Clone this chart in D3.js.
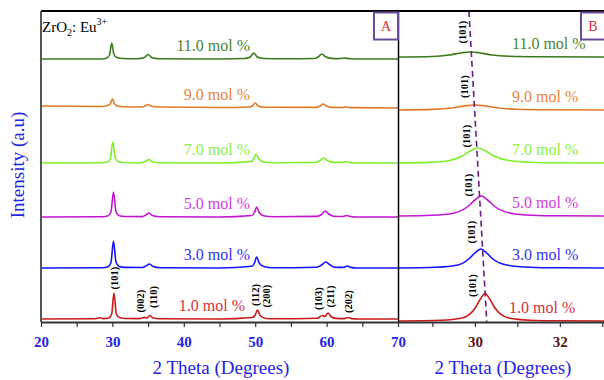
<body style="margin:0;background:#fff">
  <svg width="604" height="380"></svg>

  <script src="https://cdn.jsdelivr.net/npm/d3@7"></script>

  <script>
    // --- data (intensity in a.u., one unit ~ one pixel) ---
    const seriesLabels = ["11.0 mol %", "9.0 mol %", "7.0 mol %", "5.0 mol %", "3.0 mol %", "1.0 mol %"];
    const lineColors  = ["#3b7a1c", "#e07a26", "#7ef02a", "#c414d4", "#1414ff", "#cc1a1a"];
    const labelColors = ["#4a862a", "#e8843a", "#8cf046", "#d23cdc", "#3434ee", "#d8303a"];

    // vertical stacking of the patterns
    const offsetsA = [263, 214, 159, 105, 54, 3];
    const offsetsB = [265, 212, 159, 106, 54, 1];

    // panel A: full scans, [2theta, intensity]
    const scanA11 = [[20,0],[28.5,0],[29.2,1],[29.6,4],[29.9,16],[30.2,5],[30.6,1.5],[31.5,0.5],[33.5,0.3],[34.5,1.5],[35.0,4.5],[35.5,1.5],[36.5,0.3],[42,0],[48.5,0.5],[49.3,2],[49.8,6],[50.3,2],[51.2,0.5],[54,0.2],[58.3,0.5],[58.9,2.5],[59.3,5],[59.8,2.5],[60.6,0.6],[61.8,0.4],[62.5,1],[63.2,0.3],[65,0],[70,0]];
    const scanA9  = [[20,2],[28.5,1.5],[29.3,2.5],[29.7,4],[30.0,9],[30.3,4],[30.7,2],[31.5,1.2],[34,1],[34.6,2],[35.0,3.5],[35.5,1.8],[36.5,1],[45,0.5],[49.2,1],[49.6,2],[50.0,5],[50.4,2],[51.2,0.8],[58.5,0.6],[59.1,2],[59.5,4],[60,2],[60.8,0.6],[62.3,0.5],[62.7,1.2],[63.2,0.4],[70,0]];
    const scanA7  = [[20,0],[28.5,0.2],[29.3,1],[29.7,4],[30.05,21],[30.4,5],[30.8,1.5],[31.6,0.5],[34,0.3],[34.6,1.5],[35.1,3.5],[35.6,1.2],[36.6,0.3],[45,0],[49.4,1.5],[49.8,4],[50.1,9],[50.5,4],[51.2,1],[52.5,0.2],[58.5,0.5],[59.1,2.5],[59.6,5],[60.1,2.5],[60.9,0.6],[62.2,0.5],[62.7,1.5],[63.2,0.5],[64,0],[70,0]];
    const scanA5  = [[20,0],[28.6,0.2],[29.4,1.2],[29.8,5],[30.15,25],[30.5,5.5],[30.9,1.5],[31.7,0.5],[34.2,0.4],[34.7,2],[35.1,4],[35.6,1.5],[36.6,0.3],[45,0],[49.5,1.5],[49.9,4.5],[50.2,10],[50.6,4],[51.3,1],[52.5,0.2],[58.6,0.6],[59.3,2.5],[59.8,6],[60.3,3],[61,0.7],[62.3,0.5],[62.8,1.5],[63.3,0.5],[64.2,0],[70,0]];
    const scanA3  = [[20,0],[28.6,0.3],[29.4,1.3],[29.8,5.5],[30.15,27],[30.5,6],[30.9,1.8],[31.7,0.6],[34.2,0.5],[34.7,2],[35.2,4],[35.7,1.5],[36.7,0.3],[45,0],[49.5,1.8],[49.9,5],[50.2,11],[50.6,4.5],[51.3,1.2],[52.5,0.3],[58.6,0.8],[59.3,3],[59.9,6],[60.4,3.5],[61.1,0.8],[62.3,0.6],[62.9,2],[63.4,0.6],[64.3,0],[70,0]];
    const scanA1  = [[20,0],[27.6,0.3],[28.2,1.2],[28.7,0.4],[29.5,1],[29.9,5],[30.22,26],[30.55,5],[31,1.5],[31.8,0.5],[33.8,0.4],[34.5,1.6],[34.85,1],[35.25,3.5],[35.7,1],[36.6,0.2],[45,0],[49.6,1.5],[50,4],[50.3,9],[50.7,3.5],[51.4,0.8],[52.6,0.2],[58.7,0.8],[59.4,3.5],[59.75,2.5],[60.2,6],[60.6,2.5],[61.3,0.6],[62.5,0.4],[63.0,1.5],[63.5,0.4],[64.4,0],[70,0]];

    // panel B: (101) reflection, slow scans
    const scanB11 = [[28.1,0],[29.0,0.5],[29.4,2],[29.7,4.3],[29.9,5],[30.1,4.3],[30.4,2],[30.8,0.7],[31.5,0.2],[33.2,0]];
    const scanB9  = [[28.1,0],[29.0,0.6],[29.5,2.3],[29.8,4.4],[30.0,5],[30.2,4.4],[30.5,2.3],[31.0,0.7],[31.7,0.2],[33.2,0]];
    const scanB7  = [[28.1,0],[28.9,0.6],[29.4,2.5],[29.7,7],[29.89,12],[30.07,15],[30.25,12],[30.45,7],[30.8,2.5],[31.3,0.8],[32,0.2],[33.2,0]];
    const scanB5  = [[28.1,0],[29.0,0.7],[29.5,2.8],[29.85,10],[30.0,16],[30.15,20],[30.3,16],[30.45,10],[30.85,2.8],[31.35,0.8],[32,0.2],[33.2,0]];
    const scanB3  = [[28.1,0],[29.1,0.8],[29.6,3],[29.87,9.5],[30.0,15],[30.14,19],[30.28,15],[30.41,9.5],[30.75,3],[31.3,0.8],[32,0.2],[33.2,0]];
    const scanB1  = [[28.1,0],[29.2,0.8],[29.7,3],[30.02,13.75],[30.13,22],[30.24,27.5],[30.35,22],[30.46,13.75],[30.8,3],[31.3,0.8],[32,0.2],[33.2,0]];

    const scansA = [scanA11, scanA9, scanA7, scanA5, scanA3, scanA1];
    const scansB = [scanB11, scanB9, scanB7, scanB5, scanB3, scanB1];

    // axis ticks
    const ticksA = [20, 25, 30, 35, 40, 45, 50, 55, 60, 65, 70];
    const tickLabelsA = [20, 30, 40, 50, 60, 70];
    const ticksB = [29, 30, 31, 32, 33];
    const tickLabelsB = [30, 32];

    // reflection labels (2theta, height of label centre)
    const hklA      = ["(101)", "(002)", "(110)", "(112)", "(200)", "(103)", "(211)", "(202)"];
    const hklThetaA = [30.36, 33.9, 35.7, 50.0, 51.6, 58.8, 60.6, 63.0];
    const hklHeightA = [44, 21, 25, 27, 26, 23.5, 25.5, 20.5];
    const hklThetaB  = [29.72, 29.76, 29.81, 29.86, 29.91, 29.95];
    const hklHeightB = [290, 235.5, 186, 137, 90, 36.5];

    // dashed guide through the (101) maxima
    const guideB = [[29.86, 311], [30.28, 0]];

    // --- layout ---
    const svg = d3.select("svg");
    const serif = "'Liberation Serif', 'Times New Roman', serif";
    const plotTop = 11, plotBottom = 322;

    const xA = d3.scaleLinear().domain([20, 70]).range([41, 398]);
    const xB = d3.scaleLinear().domain([28.19, 33.04]).range([398, 604]);
    const y = d3.scaleLinear().domain([0, 311]).range([plotBottom, plotTop]);

    const defs = svg.append("defs");
    defs.append("clipPath").attr("id", "clipB")
      .append("rect").attr("x", 398).attr("y", 0).attr("width", 206).attr("height", plotBottom);
    defs.append("clipPath").attr("id", "clipA")
      .append("rect").attr("x", 41).attr("y", 0).attr("width", 357).attr("height", plotBottom);

    // patterns
    scansA.forEach((scan, i) => {
      const line = d3.line().x(d => xA(d[0])).y(d => y(d[1] + offsetsA[i])).curve(d3.curveMonotoneX);
      svg.append("path").attr("d", line(scan)).attr("clip-path", "url(#clipA)")
        .attr("fill", "none").attr("stroke", lineColors[i]).attr("stroke-width", 1.6);
    });
    scansB.forEach((scan, i) => {
      const line = d3.line().x(d => xB(d[0])).y(d => y(d[1] + offsetsB[i])).curve(d3.curveMonotoneX);
      svg.append("path").attr("d", line(scan)).attr("clip-path", "url(#clipB)")
        .attr("fill", "none").attr("stroke", lineColors[i]).attr("stroke-width", 1.6);
    });

    // concentration labels
    svg.selectAll(".labA").data(seriesLabels).join("text").attr("class", "labA")
      .attr("x", (d, i) => i === 5 ? 245 : 250)
      .attr("y", (d, i) => y(offsetsA[i]) - 8)
      .attr("text-anchor", "end")
      .attr("font-family", serif).attr("font-size", 16)
      .attr("fill", (d, i) => labelColors[i]).text(d => d);
    svg.selectAll(".labB").data(seriesLabels).join("text").attr("class", "labB")
      .attr("x", (d, i) => i === 5 ? 509 : 512)
      .attr("y", (d, i) => y(offsetsB[i]) - 8)
      .attr("font-family", serif).attr("font-size", 16)
      .attr("fill", (d, i) => labelColors[i]).text(d => d);

    // reflection labels
    hklA.forEach((t, i) => {
      svg.append("text")
        .attr("transform", `translate(${xA(hklThetaA[i])},${y(hklHeightA[i])}) rotate(-90)`)
        .attr("text-anchor", "middle").attr("dominant-baseline", "central")
        .attr("font-family", serif).attr("font-size", 10.5).attr("font-weight", "bold")
        .text(t);
    });
    hklThetaB.forEach((t, i) => {
      svg.append("text")
        .attr("transform", `translate(${xB(t)},${y(hklHeightB[i])}) rotate(-90)`)
        .attr("text-anchor", "middle").attr("dominant-baseline", "central")
        .attr("font-family", serif).attr("font-size", 10.5).attr("font-weight", "bold")
        .text("(101)");
    });

    // dashed guide
    svg.append("line")
      .attr("x1", xB(guideB[0][0])).attr("y1", y(guideB[0][1]))
      .attr("x2", xB(guideB[1][0])).attr("y2", y(guideB[1][1]))
      .attr("stroke", "#6a1b8a").attr("stroke-width", 1.6).attr("stroke-dasharray", "6,4");

    // frame
    svg.append("line").attr("x1", 41).attr("x2", 604).attr("y1", plotTop).attr("y2", plotTop)
      .attr("stroke", "#000").attr("stroke-width", 2);
    svg.append("line").attr("x1", 398.5).attr("x2", 398.5).attr("y1", plotTop).attr("y2", plotBottom)
      .attr("stroke", "#000").attr("stroke-width", 1.5);
    svg.append("line").attr("x1", 41).attr("x2", 41).attr("y1", plotTop).attr("y2", plotBottom)
      .attr("stroke", "#555").attr("stroke-width", 2);

    // bottom axes
    const axA = svg.append("g").attr("transform", `translate(0,${plotBottom})`)
      .call(d3.axisBottom(xA).tickValues(ticksA).tickSize(5).tickSizeOuter(0)
        .tickFormat(d => tickLabelsA.includes(d) ? d : ""));
    const axB = svg.append("g").attr("transform", `translate(0,${plotBottom})`)
      .call(d3.axisBottom(xB).tickValues(ticksB).tickSize(5).tickSizeOuter(0)
        .tickFormat(d => tickLabelsB.includes(d) ? d : ""));
    [axA, axB].forEach(ax => {
      ax.select(".domain").attr("stroke", "#333").attr("stroke-width", 1.8);
      ax.selectAll(".tick line").attr("stroke", "#333").attr("stroke-width", 1.2);
      ax.selectAll("text").attr("font-family", serif).attr("font-size", 15)
        .attr("font-weight", "bold").attr("dy", 0).attr("y", 25);
    });
    axA.selectAll("text").attr("fill", "#2424e6");
    axB.selectAll("text").attr("fill", "#5a1414");

    // axis titles
    svg.append("text").attr("x", 221).attr("y", 374).attr("text-anchor", "middle")
      .attr("font-family", serif).attr("font-size", 19).attr("fill", "#2424e6")
      .text("2 Theta (Degrees)");
    svg.append("text").attr("x", 503).attr("y", 374).attr("text-anchor", "middle")
      .attr("font-family", serif).attr("font-size", 19).attr("fill", "#2424e6")
      .text("2 Theta (Degrees)");
    svg.append("text").attr("transform", "translate(24,165) rotate(-90)").attr("text-anchor", "middle")
      .attr("font-family", serif).attr("font-size", 19).attr("fill", "#2424e6")
      .text("Intensity (a.u)");

    // sample label
    const title = svg.append("text").attr("x", 42).attr("y", 32)
      .attr("font-family", serif).attr("font-size", 15).attr("fill", "#000");
    title.append("tspan").text("ZrO");
    title.append("tspan").attr("font-size", 10).attr("dy", 4).text("2");
    title.append("tspan").attr("dy", -4).text(": Eu");
    title.append("tspan").attr("font-size", 10).attr("dy", -7).text("3+");

    // panel tags
    [["A", 374, 398], ["B", 581, 605]].forEach(([t, x0, x1]) => {
      svg.append("rect").attr("x", x0).attr("y", 12.5).attr("width", x1 - x0).attr("height", 27)
        .attr("fill", "#fff").attr("stroke", "#6a4c9c").attr("stroke-width", 2);
      svg.append("text").attr("x", (x0 + x1) / 2).attr("y", 31).attr("text-anchor", "middle")
        .attr("font-family", serif).attr("font-size", 14).attr("fill", "#d8303a").text(t);
    });
  </script>
</body>
